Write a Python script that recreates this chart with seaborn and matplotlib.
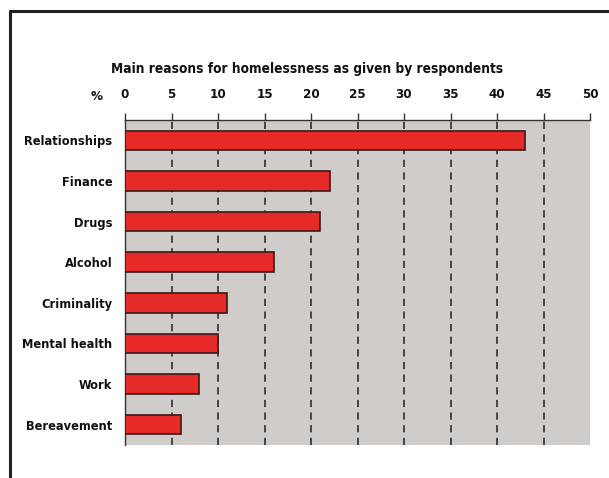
import matplotlib
matplotlib.use("Agg")
import matplotlib.pyplot as plt
import seaborn as sns
import pandas as pd
from matplotlib.lines import Line2D

# data
reasons = ["Relationships", "Finance", "Drugs", "Alcohol", "Criminality",
           "Mental health", "Work", "Bereavement"]
percent = [43, 22, 21, 16, 11, 10, 8, 6]
x_ticks = [0, 5, 10, 15, 20, 25, 30, 35, 40, 45, 50]

df = pd.DataFrame({"reason": reasons, "percent": percent})

sns.set_style("white")
plt.rcParams["font.family"] = ["DejaVu Sans"]
plt.rcParams["font.weight"] = "bold"
plt.rcParams["font.stretch"] = "condensed"
plt.rcParams["text.color"] = "#111111"
plt.rcParams["xtick.labelcolor"] = "#111111"
plt.rcParams["ytick.labelcolor"] = "#111111"

fig = plt.figure(figsize=(6.09, 4.78), dpi=100)
ax = fig.add_axes([0.2053, 0.069, 0.7635, 0.680])

sns.barplot(data=df, x="percent", y="reason", orient="h", color="#e62a28",
            saturation=1, width=0.48, edgecolor="#3a1a1a", linewidth=1.2, ax=ax, zorder=3)

ax.set_facecolor("#cfccca")
ax.set_xlim(0, 50)
ax.set_ylim(7.5, -0.5)

# dashed verticals
for v in x_ticks[1:-1]:
    ax.axvline(v, color="#3a3a3a", linestyle=(0, (4, 3)), linewidth=1.3, zorder=1)

ax.xaxis.tick_top()
ax.set_xticks(x_ticks)
ax.set_xticklabels([str(t) for t in x_ticks], fontsize=9.5, fontweight="bold")
ax.tick_params(axis="x", direction="out", length=5, width=1, pad=9, color="#333333")
ax.set_xlabel("")
ax.set_ylabel("")

ax.set_yticks(range(len(reasons)))
ax.set_yticklabels(reasons, fontsize=9.2, fontweight="bold")
ax.tick_params(axis="y", length=0, pad=9)
ax.set_yticks([i - 0.5 for i in range(len(reasons) + 1)], minor=True)
ax.tick_params(axis="y", which="minor", length=4, width=1, color="#333333")

for s in ["right", "bottom"]:
    ax.spines[s].set_visible(False)
for s in ["left", "top"]:
    ax.spines[s].set_color("#333333")
    ax.spines[s].set_linewidth(1)

fig.text(0.159, 0.799, "%", fontsize=9.5, fontweight="bold", ha="center", va="center")
fig.text(0.505, 0.855, "Main reasons for homelessness as given by respondents",
         fontsize=9.8, fontweight="bold", ha="center", va="center")

# outer frame (top and left lines only)
fig.add_artist(Line2D([0.0165, 0.0165], [0, 0.977], transform=fig.transFigure,
                      color="#222222", linewidth=2.2))
fig.add_artist(Line2D([0.0165, 1.0], [0.977, 0.977], transform=fig.transFigure,
                      color="#222222", linewidth=2.2))

fig.savefig("out.png", dpi=100)
